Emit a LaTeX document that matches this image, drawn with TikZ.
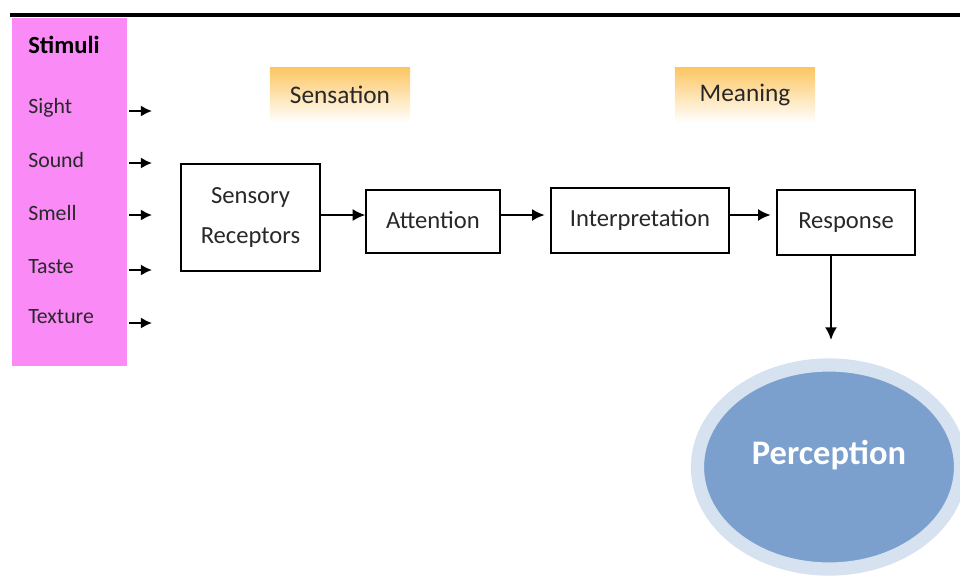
\documentclass[tikz,border=0pt]{standalone}
\usepackage{fontspec}
\setmainfont{Carlito}
\usepackage{tikz}
\usetikzlibrary{shapes.geometric, arrows.meta}
\definecolor{stimpink}{RGB}{249,138,246}
\definecolor{labelorange}{RGB}{252,198,98}
\definecolor{textgray}{RGB}{40,40,40}
\definecolor{percblue}{RGB}{123,160,206}
\definecolor{percring}{RGB}{214,226,240}

\begin{document}
\begin{tikzpicture}[x=0.025cm, y=-0.025cm,
  box/.style={draw=black, line width=0.9pt, fill=white, text=textgray, align=center, font=\fontsize{17.5}{30}\selectfont, inner sep=0pt},
  stimtext/.style={anchor=west, text=textgray, font=\fontsize{15.5}{18}\selectfont, inner sep=0pt},
  tag/.style={minimum width=3.5cm, minimum height=1.375cm, top color=labelorange, bottom color=white, text=textgray, font=\fontsize{18}{22}\selectfont},
  flow/.style={line width=1.4pt, -{Latex[length=9pt, width=8.5pt]}, shorten >=4pt}]
\useasboundingbox (0,0) rectangle (960,575);
\coordinate (rule-a) at (10,15);
\coordinate (rule-b) at (960,15);
\draw[line width=2.4pt] (rule-a) -- (rule-b);
\node[fill=stimpink, minimum width=2.875cm, minimum height=8.7cm, anchor=north west, inner sep=0pt] (stim) at (12,18) {};
\node[stimtext, font=\fontsize{17.5}{20}\bfseries\selectfont, text=black] (stimuli) at (28,45) {Stimuli};
\foreach \name/\y/\ay in {Sight/108/111, Sound/160/163, Smell/213/215, Taste/267/270, Texture/317/323} {
  \node[stimtext] (\name) at (28,\y) {\name};
  \coordinate (\name-a) at (129,\ay);
  \coordinate (\name-b) at (152,\ay);
  \draw[flow, shorten >=0pt, -{Latex[length=8pt, width=8pt]}] (\name-a) -- (\name-b);
}
\node[tag] (sensation) at (340,95) {Sensation};
\node[tag] (meaning) at (745,95) {Meaning};
\node[box, minimum width=3.475cm, minimum height=2.675cm] (sr) at (250.5,217.5) {\raisebox{-2pt}{Sensory}\\Receptors};
\node[box, minimum width=3.35cm, minimum height=1.575cm] (att) at (433,221.5) {\raisebox{2pt}{Attention}};
\node[box, minimum width=4.45cm, minimum height=1.625cm] (interp) at (640,220.5) {\raisebox{4pt}{Interpretation}};
\node[box, minimum width=3.45cm, minimum height=1.625cm] (resp) at (846,222.5) {\raisebox{2pt}{Response}};
\node[ellipse, fill=percblue, draw=percring, line width=0.33cm, minimum width=6.575cm, minimum height=5.1cm, text=white, font=\fontsize{24.5}{28}\bfseries\selectfont] (perc) at (829,467) {\raisebox{21pt}{Perception}};
\coordinate (down) at (831,340);
\draw[flow, shorten >=0pt] (sr.east |- 0,215) -- (att.west |- 0,215);
\draw[flow] (att.east |- 0,215) -- (interp.west |- 0,215);
\draw[flow] (interp.east |- 0,215) -- (resp.west |- 0,215);
\draw[flow, shorten >=0pt] (resp.south -| down) -- (down);
\end{tikzpicture}
\end{document}
